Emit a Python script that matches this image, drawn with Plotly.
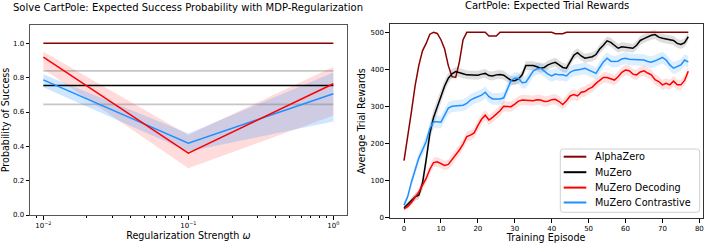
import plotly.graph_objects as go

W, H = 706, 243

# ---------------- Left panel data ----------------
omega = [0.01, 0.1, 1.0]
alpha_prob = [1.0, 1.0, 1.0]
mu_prob = [0.755, 0.755, 0.755]
mu_prob_hi = [0.84, 0.84, 0.84]
mu_prob_lo = [0.645, 0.645, 0.645]
dec_prob = [0.92, 0.36, 0.765]
dec_prob_lo = [0.85, 0.272, 0.58]
dec_prob_hi = [0.951, 0.466, 0.864]
con_prob = [0.787, 0.418, 0.706]
con_prob_lo = [0.745, 0.37, 0.545]
con_prob_hi = [0.82, 0.475, 0.83]

# ---------------- Right panel data ----------------
episodes = list(range(78))
alphazero = [153, 215, 285, 355, 410, 450, 470, 495, 500, 497,
             480, 455, 410, 380, 378, 420, 480, 500, 500, 500,
             500, 500, 500, 490, 490, 490, 500, 500, 500, 500,
             500, 500, 500, 500, 500, 500, 500, 500, 500, 500,
             500, 496, 495, 496, 500, 500, 500, 500, 500, 500,
             500, 500, 500, 500, 500, 500, 500, 500, 500, 500,
             500, 500, 500, 500, 500, 500, 500, 500, 500, 500,
             500, 500, 500, 500, 500, 500, 500, 500]
muzero = [25, 35, 45, 55, 60, 92, 155, 227, 270, 300,
          326, 355, 376, 388, 394, 392, 388, 385, 384, 383,
          384, 387, 389, 383, 382, 385, 386, 384, 378, 370,
          369, 374, 385, 410, 410, 410, 407, 403, 405, 412,
          416, 419, 412, 405, 403, 420, 438, 445, 436, 430,
          433, 434, 440, 455, 465, 477, 473, 465, 457, 461,
          459, 457, 457, 465, 478, 483, 488, 492, 494, 487,
          484, 482, 479, 478, 470, 467, 472, 488]
muzero_err = [6, 8, 8, 10, 12, 18, 22, 22, 22, 20,
              18, 16, 14, 12, 12, 12, 12, 12, 12, 12,
              12, 12, 12, 12, 12, 12, 12, 12, 12, 12,
              12, 12, 12, 12, 12, 12, 12, 12, 12, 12,
              12, 12, 12, 12, 12, 12, 12, 12, 12, 12,
              12, 12, 12, 12, 12, 12, 12, 12, 12, 12,
              12, 12, 12, 12, 12, 12, 12, 12, 12, 12,
              12, 12, 12, 12, 12, 12, 12, 12]
decoding = [23, 29, 40, 55, 68, 87, 105, 130, 148, 150,
            146, 140, 143, 155, 170, 182, 198, 218, 222, 228,
            248, 265, 276, 263, 270, 278, 288, 300, 300, 299,
            306, 314, 317, 317, 316, 315, 318, 317, 313, 314,
            318, 319, 313, 305, 315, 328, 332, 328, 338, 340,
            347, 352, 362, 370, 378, 378, 375, 371, 380, 392,
            398, 396, 387, 385, 393, 396, 390, 385, 372, 367,
            358, 362, 358, 368, 358, 358, 370, 395]
decoding_err = [5, 7, 9, 10, 11, 12, 13, 13, 13, 13,
                13, 13, 13, 14, 14, 14, 14, 14, 14, 14,
                14, 14, 14, 14, 14, 14, 14, 14, 14, 14,
                14, 14, 14, 14, 14, 14, 14, 14, 14, 14,
                14, 14, 14, 14, 14, 14, 14, 14, 14, 14,
                14, 14, 14, 14, 14, 14, 14, 14, 14, 14,
                14, 14, 14, 14, 14, 14, 14, 14, 14, 14,
                14, 14, 14, 14, 14, 14, 14, 14]
contrastive = [33, 56, 95, 125, 160, 182, 205, 240, 258, 258,
               257, 276, 295, 300, 301, 301, 303, 308, 317, 322,
               326, 330, 338, 326, 320, 319, 320, 323, 345, 370,
               376, 376, 364, 365, 380, 395, 401, 403, 395, 387,
               382, 387, 385, 385, 382, 392, 397, 398, 400, 403,
               398, 394, 389, 405, 420, 430, 422, 421, 422, 428,
               430, 427, 426, 425, 425, 425, 421, 419, 423, 428,
               432, 425, 412, 403, 408, 412, 425, 420]
contrastive_err = [8, 10, 12, 14, 15, 16, 17, 17, 17, 17,
                   17, 17, 17, 16, 16, 16, 16, 16, 16, 16,
                   16, 16, 16, 16, 16, 16, 16, 16, 16, 16,
                   16, 16, 16, 16, 16, 16, 16, 16, 16, 16,
                   16, 16, 16, 16, 16, 16, 16, 16, 16, 16,
                   16, 16, 16, 16, 16, 16, 16, 16, 16, 16,
                   16, 16, 16, 16, 16, 16, 16, 16, 16, 16,
                   16, 16, 16, 16, 16, 16, 16, 16]

series_names = ["AlphaZero", "MuZero", "MuZero Decoding", "MuZero Contrastive"]

C_ALPHA = "#8B0000"
C_MU = "#000000"
C_DEC = "#FF0000"
C_CON = "#1E90FF"
series_colors = [C_ALPHA, C_MU, C_DEC, C_CON]
FONT = "DejaVu Sans"

fig = go.Figure()

# ---------- left panel ----------
def band_l(lo, hi, fill):
    fig.add_trace(go.Scatter(x=omega, y=lo, mode="lines", line=dict(width=0),
                             showlegend=False, hoverinfo="skip", xaxis="x", yaxis="y"))
    fig.add_trace(go.Scatter(x=omega, y=hi, mode="lines", line=dict(width=0),
                             fill="tonexty", fillcolor=fill, showlegend=False,
                             hoverinfo="skip", xaxis="x", yaxis="y"))

band_l(dec_prob_lo, dec_prob_hi, "rgba(255,0,0,0.14)")
band_l(con_prob_lo, con_prob_hi, "rgba(30,144,255,0.22)")
for yy in (mu_prob_hi, mu_prob_lo):
    fig.add_trace(go.Scatter(x=omega, y=yy, mode="lines",
                             line=dict(color="rgba(128,128,128,0.45)", width=1.8),
                             showlegend=False, xaxis="x", yaxis="y"))
for ys, col in [(alpha_prob, C_ALPHA), (mu_prob, C_MU), (con_prob, C_CON), (dec_prob, C_DEC)]:
    fig.add_trace(go.Scatter(x=omega, y=ys, mode="lines",
                             line=dict(color=col, width=1.5), showlegend=False,
                             xaxis="x", yaxis="y"))

# ---------- right panel ----------
def band_r(mean, err, fill):
    lo = [m - e for m, e in zip(mean, err)]
    hi = [m + e for m, e in zip(mean, err)]
    fig.add_trace(go.Scatter(x=episodes, y=lo, mode="lines", line=dict(width=0),
                             showlegend=False, hoverinfo="skip", xaxis="x2", yaxis="y2"))
    fig.add_trace(go.Scatter(x=episodes, y=hi, mode="lines", line=dict(width=0),
                             fill="tonexty", fillcolor=fill, showlegend=False,
                             hoverinfo="skip", xaxis="x2", yaxis="y2"))

band_r(muzero, muzero_err, "rgba(0,0,0,0.13)")
band_r(decoding, decoding_err, "rgba(255,0,0,0.12)")
band_r(contrastive, contrastive_err, "rgba(30,144,255,0.15)")

for name, ys, col in zip(series_names, [alphazero, muzero, decoding, contrastive], series_colors):
    fig.add_trace(go.Scatter(x=episodes, y=ys, mode="lines", name=name,
                             line=dict(color=col, width=1.5), showlegend=False,
                             xaxis="x2", yaxis="y2"))

def px(x):
    return x / W

def py(y):
    return 1 - y / H

tickfont = dict(family=FONT, size=7, color="#000")
titlefont = dict(family=FONT, size=9.6, color="#000")

major = [0.01, 0.1, 1.0]
minor_vals = [m * b for b in (0.01, 0.1) for m in range(2, 10)] + [0.009, 0.008]

# ---------- manual legend (matplotlib-like spacing) ----------
shapes = []
annotations = []
L_x0, L_x1, L_y0, L_y1 = 560.3, 699.7, 149.0, 212.3
r = 3
path = (f"M {px(L_x0 + r)},{py(L_y0)} L {px(L_x1 - r)},{py(L_y0)} "
        f"Q {px(L_x1)},{py(L_y0)} {px(L_x1)},{py(L_y0 + r)} "
        f"L {px(L_x1)},{py(L_y1 - r)} Q {px(L_x1)},{py(L_y1)} {px(L_x1 - r)},{py(L_y1)} "
        f"L {px(L_x0 + r)},{py(L_y1)} Q {px(L_x0)},{py(L_y1)} {px(L_x0)},{py(L_y1 - r)} "
        f"L {px(L_x0)},{py(L_y0 + r)} Q {px(L_x0)},{py(L_y0)} {px(L_x0 + r)},{py(L_y0)} Z")
shapes.append(dict(type="path", path=path, xref="paper", yref="paper",
                   fillcolor="rgba(255,255,255,0.8)",
                   line=dict(color="#d0d0d0", width=1), layer="above"))
row_y = [156.7, 172.2, 187.6, 202.5]
for name, col, yy in zip(series_names, series_colors, row_y):
    shapes.append(dict(type="line", xref="paper", yref="paper",
                       x0=px(563.7), x1=px(586.3), y0=py(yy), y1=py(yy),
                       line=dict(color=col, width=2), layer="above"))
    annotations.append(dict(text=name, x=px(592.5), y=py(yy), xref="paper", yref="paper",
                            xanchor="left", yanchor="middle", showarrow=False,
                            font=dict(family=FONT, size=9.7, color="#000")))

annotations += [
    dict(text="Solve CartPole: Expected Success Probability with MDP-Regularization",
         x=px(188.4), y=py(7.5), xref="paper", yref="paper",
         xanchor="center", yanchor="middle", showarrow=False,
         font=dict(family=FONT, size=10, color="#000")),
    dict(text="CartPole: Expected Trial Rewards",
         x=px(547), y=py(5), xref="paper", yref="paper",
         xanchor="center", yanchor="middle", showarrow=False,
         font=dict(family=FONT, size=10, color="#000")),
]

fig.update_layout(
    width=W, height=H,
    margin=dict(l=0, r=0, t=0, b=0),
    paper_bgcolor="white", plot_bgcolor="white",
    font=dict(family=FONT, color="#000"),
    showlegend=False,
    xaxis=dict(domain=[px(30), px(346.7)], type="log", range=[-2.092, 0.092],
               tickmode="array", tickvals=major,
               ticktext=["10<sup>−2</sup>", "10<sup>−1</sup>", "10<sup>0</sup>"],
               ticks="outside", ticklen=3.5, tickwidth=0.8, tickcolor="#000",
               tickfont=tickfont, showgrid=False, zeroline=False,
               showline=True, linecolor="#555", linewidth=1, mirror=True,
               minor=dict(tickmode="array", tickvals=minor_vals, ticks="outside",
                          ticklen=2, tickwidth=0.6, tickcolor="#000", showgrid=False),
               title=dict(text="Regularization Strength <i>ω</i>", font=titlefont,
                          standoff=3),
               anchor="y", automargin=False),
    yaxis=dict(domain=[py(215), py(25)], range=[0, 1.107],
               tickmode="array", tickvals=[0, 0.2, 0.4, 0.6, 0.8, 1.0],
               tickformat=".1f",
               ticks="outside", ticklen=3.5, tickwidth=0.8, tickcolor="#000",
               tickfont=tickfont, showgrid=False, zeroline=False,
               showline=True, linecolor="#555", linewidth=1, mirror=True,
               title=dict(text="Probability of Success", font=titlefont, standoff=6),
               anchor="x", automargin=False),
    xaxis2=dict(domain=[px(389.8), px(702.5)], range=[-3.85, 80.85],
                tickmode="array", tickvals=list(range(0, 81, 10)),
                ticks="outside", ticklen=3.5, tickwidth=0.8, tickcolor="#000",
                tickfont=tickfont, showgrid=False, zeroline=False,
                showline=True, linecolor="#333", linewidth=1, mirror=True,
                title=dict(text="Training Episode", font=titlefont, standoff=3),
                anchor="y2", automargin=False),
    yaxis2=dict(domain=[py(218.3), py(24)], range=[-2.7, 522.5],
                tickmode="array", tickvals=[0, 100, 200, 300, 400, 500],
                ticks="outside", ticklen=3.5, tickwidth=0.8, tickcolor="#000",
                tickfont=tickfont, showgrid=False, zeroline=False,
                showline=True, linecolor="#333", linewidth=1, mirror=True,
                title=dict(text="Average Trial Rewards", font=titlefont, standoff=3),
                anchor="x2", automargin=False),
    shapes=shapes,
    annotations=annotations,
)

fig.write_html("out.html", config={"displayModeBar": False},
               post_script="document.body.style.margin='0';document.body.style.padding='0';")
